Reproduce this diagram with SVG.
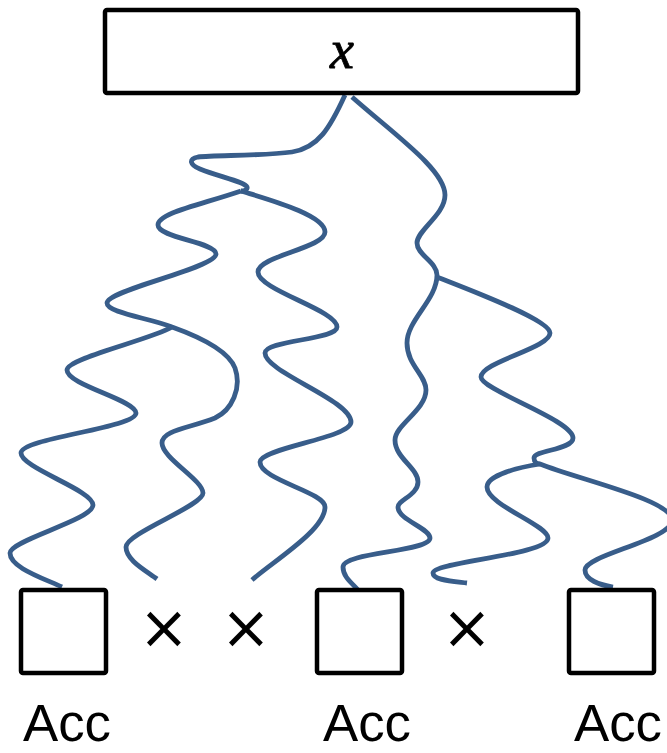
<svg xmlns="http://www.w3.org/2000/svg" width="667" height="753" viewBox="0 0 667 753">
<style>
.box{fill:#fff;stroke:#000;stroke-width:4.5;stroke-linejoin:round}
.wire{fill:none;stroke:#385D8A;stroke-width:4.8;stroke-linecap:butt;stroke-linejoin:round}
.acc{font-family:"Liberation Sans",Arial,sans-serif;font-size:51px;fill:#000}
.times{font-family:"DejaVu Sans",sans-serif;font-size:60px;fill:#000;text-anchor:middle}
</style>
<rect width="667" height="753" fill="#fff"/>
<g id="connectors">
<path class="wire" d="M345,95 C330,128 318,148 292,152 C262,156 215,155 198,157 C188,159 190,165 200,169 C220,177 245,182 247,187 C248,190 244,191 241,191"/>
<path class="wire" d="M241,191 C200,205 158,213 158,225 C158,238 216,242 216,254 C216,268 107,290 107,303 C107,313 150,318 172,327 C200,337 228,350 235,368 C242,388 232,410 215,418 C190,428 162,430 162,443 C162,458 203,480 203,493 C203,506 126,533 126,547 C126,560 145,570 157,579"/>
<path class="wire" d="M172,327 C150,340 67,358 67,370 C67,385 136,400 136,413 C136,428 21,438 21,453 C21,468 93,490 93,505 C93,520 10,540 10,553 C10,567 40,577 62,587"/>
<path class="wire" d="M241,191 C270,200 325,215 325,232 C325,248 258,256 258,272 C258,290 337,310 337,327 C337,340 265,340 265,353 C265,372 351,400 351,422 C351,438 260,448 260,462 C260,480 325,492 325,507 C325,530 275,560 252,580"/>
<path class="wire" d="M352,97 C395,135 445,170 445,195 C445,215 417,230 417,243 C417,255 437,262 437,275 C437,300 407,320 407,343 C407,365 426,375 426,390 C426,410 395,425 395,440 C395,458 418,468 418,482 C418,495 398,500 398,507 C398,520 430,528 430,538 C430,552 343,552 343,567 C343,577 352,583 358,590"/>
<path class="wire" d="M437,277 C470,290 550,320 550,333 C550,348 481,362 481,377 C481,390 573,420 573,438 C573,450 534,450 534,458 C534,462 537,464 540,464 C580,480 672,500 672,520 C672,540 585,555 585,570 C585,580 600,585 613,587"/>
<path class="wire" d="M540,464 C520,467 487,475 487,487 C487,505 548,525 548,538 C548,555 433,562 433,573 C433,580 450,581 467,583"/>
</g>
<g id="x-node">
<rect class="box" x="105" y="10" width="473" height="83" rx="2"/>
<text x="342" y="68" font-family="'Liberation Serif','Times New Roman',serif" font-style="italic" font-size="54" text-anchor="middle" stroke="#000" stroke-width="0.8">x</text>
</g>
<g id="acc1">
<rect class="box" x="21" y="590" width="85" height="83" rx="2"/>
<text class="acc" x="23" y="741" textLength="88" lengthAdjust="spacingAndGlyphs">Acc</text>
</g>
<g id="cross1"><text class="times" x="164" y="648">×</text></g>
<g id="cross2"><text class="times" x="246" y="648">×</text></g>
<g id="acc2">
<rect class="box" x="317" y="590" width="85" height="83" rx="2"/>
<text class="acc" x="323" y="741" textLength="88" lengthAdjust="spacingAndGlyphs">Acc</text>
</g>
<g id="cross3"><text class="times" x="467" y="648">×</text></g>
<g id="acc3">
<rect class="box" x="569" y="590" width="85" height="83" rx="2"/>
<text class="acc" x="574" y="741" textLength="88" lengthAdjust="spacingAndGlyphs">Acc</text>
</g>
</svg>
